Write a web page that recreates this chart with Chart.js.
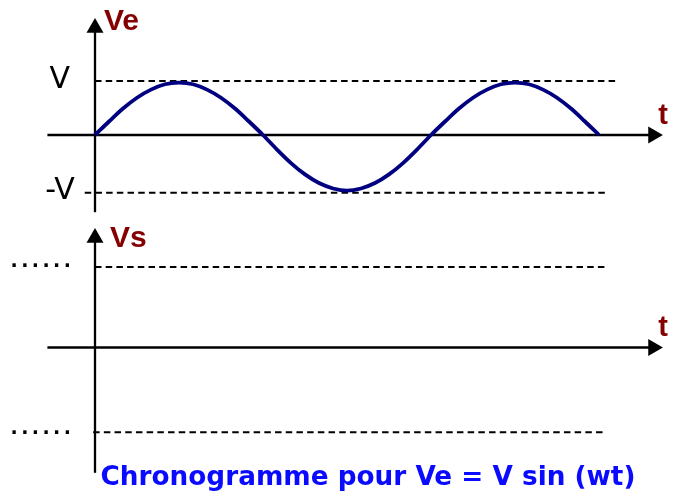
<!DOCTYPE html>
<html>
<head>
<meta charset="utf-8">
<script src="https://cdn.jsdelivr.net/npm/chart.js@4"></script>
<style>
  html, body { margin: 0; padding: 0; background: #ffffff; }
  #wrap { width: 682px; height: 498px; position: relative; }
  canvas { display: block; }
</style>
</head>
<body>
<div id="wrap"><canvas id="c" width="682" height="498"></canvas></div>
<script>
// ---- data ----
// angle wt (degrees) of the samples of Ve
const wtAngles = [0, 15, 30, 45, 60, 75, 90, 105, 120, 135, 150, 165, 180,
                  195, 210, 225, 240, 255, 270, 285, 300, 315, 330, 345, 360,
                  375, 390, 405, 420, 435, 450, 465, 480, 495, 510, 525, 540];
// Ve in units of V
const veValues = [0, 0.25, 0.49, 0.69, 0.84, 0.94, 0.97, 0.94, 0.84, 0.69, 0.49, 0.25, 0,
                  -0.27, -0.52, -0.73, -0.89, -0.99, -1.03, -0.99, -0.89, -0.73, -0.52, -0.27, 0,
                  0.25, 0.49, 0.69, 0.84, 0.94, 0.97, 0.94, 0.84, 0.69, 0.49, 0.25, 0];
// dashed reference levels (top panel: V and -V ; bottom panel: the two "......" levels)
const veLevels = [1.0, -1.07];
const veLevelStarts = [0, -11];
const veLevelEnds = [559, 548];
const vsLevels = [0.97, -1.02];
const vsLevelStarts = [0, -2];
const vsLevelEnds = [550, 548];
// tick labels
const veTickLabels = ['V', '-V'];
const vsTickLabels = ['......', '......'];
const axisNames = ['Ve', 'Vs'];
const timeName = 't';
const titleText = 'Chronogramme pour Ve = V sin (wt)';
// axis extents (x in degrees, y in panel units)
const tAxisStart = -51, tAxisEnd = 596;
const veAxisBottom = -1.43, veAxisTop = 1.95;
const vsAxisBottom = -1.51, vsAxisTop = 1.29;

// ---- datasets ----
const sinePts = wtAngles.map((a, i) => ({ x: a, y: veValues[i] }));
function seg(x0, x1, y0, y1) { return [{ x: x0, y: y0 }, { x: x1, y: y1 }]; }

const datasets = [
  {
    label: 'Ve', data: sinePts, yAxisID: 'yTop',
    borderColor: '#000080', borderWidth: 3.8, pointRadius: 0,
    tension: 0.4, cubicInterpolationMode: 'monotone', fill: false
  },
  // top panel axes
  { data: seg(tAxisStart, tAxisEnd, 0, 0), yAxisID: 'yTop', borderColor: '#000', borderWidth: 2.3, pointRadius: 0 },
  { data: seg(0, 0, veAxisBottom, veAxisTop), yAxisID: 'yTop', borderColor: '#000', borderWidth: 2.3, pointRadius: 0 },
  // bottom panel axes
  { data: seg(tAxisStart, tAxisEnd, 0, 0), yAxisID: 'yBot', borderColor: '#000', borderWidth: 2.3, pointRadius: 0 },
  { data: seg(0, 0, vsAxisBottom, vsAxisTop), yAxisID: 'yBot', borderColor: '#000', borderWidth: 2.3, pointRadius: 0 },
  // arrow heads
  {
    data: [{ x: 598, y: 0 }, { x: 0, y: 1.985 }], yAxisID: 'yTop', showLine: false,
    pointStyle: 'triangle', pointRadius: 9.8, pointRotation: [90, 0],
    pointBackgroundColor: '#000', pointBorderWidth: 0, borderColor: '#000'
  },
  {
    data: [{ x: 598, y: 0 }, { x: 0, y: 1.322 }], yAxisID: 'yBot', showLine: false,
    pointStyle: 'triangle', pointRadius: 9.8, pointRotation: [90, 0],
    pointBackgroundColor: '#000', pointBorderWidth: 0, borderColor: '#000'
  }
];
veLevels.forEach((lv, i) => datasets.push({
  data: seg(veLevelStarts[i], veLevelEnds[i], lv, lv), yAxisID: 'yTop',
  borderColor: '#000', borderWidth: 2, borderDash: [6.5, 4.2], pointRadius: 0
}));
vsLevels.forEach((lv, i) => datasets.push({
  data: seg(vsLevelStarts[i], vsLevelEnds[i], lv, lv), yAxisID: 'yBot',
  borderColor: '#000', borderWidth: 2, borderDash: [6.5, 4.2], pointRadius: 0
}));

// ---- text labels anchored to the scales ----
const labelPlugin = {
  id: 'labels',
  afterDatasetsDraw(chart) {
    const { ctx } = chart;
    const sx = chart.scales.x, st = chart.scales.yTop, sb = chart.scales.yBot;
    function put(text, x, scale, y, font, color, spacing) {
      ctx.save();
      ctx.font = font;
      ctx.fillStyle = color;
      ctx.textAlign = 'left';
      ctx.textBaseline = 'alphabetic';
      if (spacing && 'letterSpacing' in ctx) ctx.letterSpacing = spacing;
      ctx.fillText(text, sx.getPixelForValue(x), scale.getPixelForValue(y));
      ctx.restore();
    }
    const red = '#850000';
    const nameFont = 'bold 30px "Liberation Sans"';
    put(axisNames[0], 9.6, st, 1.944, nameFont, red);
    put(axisNames[1], 16, sb, 1.211, nameFont, red);
    put(timeName, 603.5, st, 0.204, 'bold 29px "Liberation Sans"', red);
    put(timeName, 603.5, sb, 0.14, 'bold 29px "Liberation Sans"', red);
    const tickFont = '30px "DejaVu Sans"';
    put(veTickLabels[0], -48.8, st, 0.87, tickFont, '#000');
    put(veTickLabels[1], -53.3, st, -1.185, tickFont, '#000');
    const dotFont = 'bold 19px "DejaVu Sans"';
    put(vsTickLabels[0], -90.5, sb, 0.964, dotFont, '#000', '3.4px');
    put(vsTickLabels[1], -90.5, sb, -1.042, dotFont, '#000', '3.4px');
    put(titleText, 5.9, sb, -1.657, 'bold 26.3px "DejaVu Sans"', '#0a0aff');
  }
};

new Chart(document.getElementById('c'), {
  type: 'line',
  data: { datasets },
  options: {
    responsive: false,
    animation: false,
    events: [],
    layout: { padding: 0, autoPadding: false },
    plugins: { legend: { display: false }, tooltip: { enabled: false }, title: { display: false } },
    scales: {
      x: { type: 'linear', display: false, min: -101.79, max: 628.93 },
      yTop: { type: 'linear', display: false, min: -6.7222, max: 2.5 },
      yBot: { type: 'linear', display: false, min: -1.8133, max: 4.1867 }
    }
  },
  plugins: [labelPlugin]
});
</script>
</body>
</html>
